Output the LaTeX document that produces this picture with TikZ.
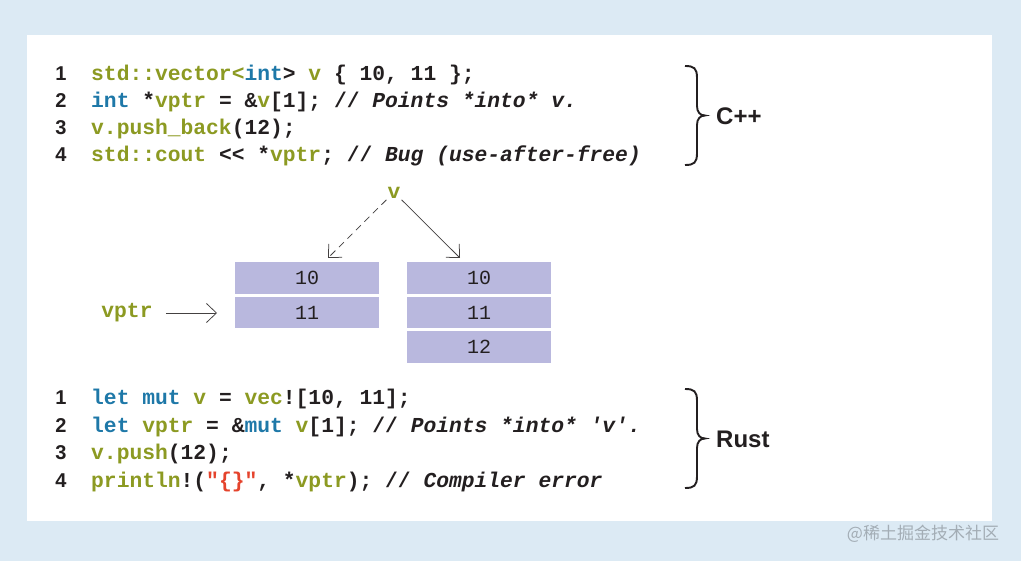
\documentclass[tikz,border=0pt]{standalone}
\usepackage{fontspec}
\setmainfont{Liberation Sans}
\newfontfamily\codefont{Liberation Mono}[Ligatures=TeXOff]
\newfontfamily\cjkfont{Noto Sans CJK SC}
\usetikzlibrary{arrows.meta}
\definecolor{bgblue}{HTML}{DCEAF4}
\definecolor{olive}{HTML}{8C9A22}
\definecolor{kwblue}{HTML}{1E78A8}
\definecolor{ink}{HTML}{231F20}
\definecolor{strred}{HTML}{E5432C}
\definecolor{cellfill}{HTML}{B9B8DE}
\definecolor{wmgray}{HTML}{A3ADB5}
\newcommand{\cOl}[1]{\textcolor{olive}{#1}}
\newcommand{\cKw}[1]{\textcolor{kwblue}{#1}}
\newcommand{\cCm}[1]{\textit{#1}}
\begin{document}
\begin{tikzpicture}[x=1pt,y=-1pt,
 code/.style={anchor=base west, inner sep=0pt, text=ink, font=\codefont\bfseries\frenchspacing\fontsize{21.3}{24}\selectfont},
 lnum/.style={anchor=base, inner sep=0pt, text=ink, font=\bfseries\fontsize{20}{22}\selectfont},
 lang/.style={anchor=west, inner sep=0pt, text=ink, font=\bfseries\fontsize{24}{26}\selectfont},
 cell/.style={fill=cellfill, draw=none, minimum width=144pt, inner sep=0pt, text=ink, font=\codefont\fontsize{20}{22}\selectfont},
 varlbl/.style={inner sep=1pt, text=olive, font=\codefont\bfseries\fontsize{21.3}{24}\selectfont},
 brace/.style={draw=ink, line width=1.9pt},
 ptr/.style={draw=ink!85, line width=0.75pt, -{Straight Barb[length=10pt,width=19pt]}},
]
\useasboundingbox (0,0) rectangle (1021,561);
\fill[bgblue] (0,0) rectangle (1021,561);
\fill[white] (27,35) rectangle (992,521);

% C++ code
\node[lnum] (n1) at (61,80.5) {1};
\node[lnum] (n2) at (61,107.5) {2};
\node[lnum] (n3) at (61,135) {3};
\node[lnum] (n4) at (61,162) {4};
\node[code] (c1) at (91,80.5) {\cOl{std::vector<}\cKw{int}> \cOl{v} \{ 10, 11 \};};
\node[code] (c2) at (91,107.5) {\cKw{int} *\cOl{vptr} = \&\cOl{v}[1]; // \cCm{Points *into* v.}};
\node[code] (c3) at (91,135) {\cOl{v.push\_back}(12);};
\node[code] (c4) at (91,162) {\cOl{std::cout} << *\cOl{vptr}; // \cCm{Bug (use-after-free)}};

% C++ brace
\draw[brace] (685,66) .. controls (694,66) and (697,68) .. (697,78) -- (697,106)
  .. controls (697,112) and (700,115.5) .. (705,115.5)
  .. controls (700,115.5) and (697,119) .. (697,125) -- (697,153)
  .. controls (697,163) and (694,165) .. (685,165);
\node[lang] (cpp) at (716,116) {C++};

% memory diagram
\node[varlbl] (v) at (394,193) {v};
\node[cell, minimum height=32pt] (a10) at (307,278) {10};
\node[cell, minimum height=31pt] (a11) at (307,312.5) {11};
\node[cell, minimum height=32pt] (b10) at (479,278) {10};
\node[cell, minimum height=31pt] (b11) at (479,312.5) {11};
\node[cell, minimum height=32pt] (b12) at (479,347) {12};
\coordinate (ta) at (328,258);
\coordinate (tb) at (460,258);
\coordinate (tp) at (217,313);
\draw[ptr, dash pattern=on 7pt off 5pt] (v.south west) -- (ta);
\draw[ptr] (v.south east) -- (tb);
\node[varlbl] (vptr) at (127,313) {vptr};
\draw[ptr] ([xshift=12pt]vptr.east) -- (tp);

% Rust code
\node[lnum] (r1) at (61,404.5) {1};
\node[lnum] (r2) at (61,432) {2};
\node[lnum] (r3) at (61,459.5) {3};
\node[lnum] (r4) at (61,487) {4};
\node[code] (d1) at (91,404.5) {\cKw{let mut} \cOl{v} = \cOl{vec}![10, 11];};
\node[code] (d2) at (91,432) {\cKw{let} \cOl{vptr} = \&\cKw{mut} \cOl{v}[1]; // \cCm{Points *into* 'v'.}};
\node[code] (d3) at (91,459.5) {\cOl{v.push}(12);};
\node[code] (d4) at (91,487) {\cOl{println}!(\textcolor{strred}{"\{\}"}, *\cOl{vptr}); // \cCm{Compiler error}};

% Rust brace
\draw[brace] (685,389) .. controls (694,389) and (697,391) .. (697,401) -- (697,429)
  .. controls (697,435) and (700,438.5) .. (705,438.5)
  .. controls (700,438.5) and (697,442) .. (697,448) -- (697,476)
  .. controls (697,486) and (694,488) .. (685,488);
\node[lang] (rust) at (716,439) {Rust};

% watermark
\node[inner sep=0pt, text=wmgray, font=\cjkfont\fontsize{17}{19}\selectfont] (wm) at (923,534) {@稀土掘金技术社区};
\end{tikzpicture}
\end{document}
